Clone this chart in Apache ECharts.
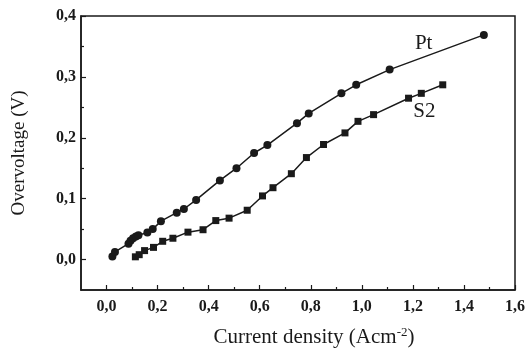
<!DOCTYPE html>
<html>
<head>
<meta charset="utf-8">
<script src="https://cdn.jsdelivr.net/npm/echarts@6/dist/echarts.min.js"></script>
<style>html,body{margin:0;padding:0;background:#fff}#c{width:528px;height:353px}</style>
</head>
<body>
<div id="c"></div>
<script>
var ptX = [0.023, 0.033, 0.086, 0.094, 0.104, 0.115, 0.125, 0.160, 0.181, 0.213, 0.275, 0.303, 0.351, 0.444, 0.509, 0.578, 0.630, 0.746, 0.792, 0.920, 0.978, 1.109, 1.478];
var ptY = [0.005, 0.0125, 0.026, 0.031, 0.035, 0.038, 0.040, 0.0445, 0.050, 0.063, 0.077, 0.083, 0.098, 0.130, 0.150, 0.175, 0.188, 0.224, 0.240, 0.273, 0.287, 0.312, 0.369];
var s2X = [0.113, 0.128, 0.149, 0.184, 0.220, 0.260, 0.319, 0.378, 0.428, 0.480, 0.551, 0.611, 0.652, 0.724, 0.783, 0.850, 0.934, 0.985, 1.046, 1.183, 1.233, 1.317];
var s2Y = [0.0045, 0.008, 0.0147, 0.020, 0.030, 0.035, 0.045, 0.049, 0.064, 0.068, 0.081, 0.1045, 0.118, 0.141, 0.1675, 0.189, 0.208, 0.227, 0.238, 0.265, 0.273, 0.287];
var xMajor = [0, 0.2, 0.4, 0.6, 0.8, 1.0, 1.2, 1.4, 1.6];
var xMinor = [0.1, 0.3, 0.5, 0.7, 0.9, 1.1, 1.3, 1.5];
var yMajor = [0, 0.1, 0.2, 0.3, 0.4];
var yMinor = [0.05, 0.15, 0.25, 0.35];

function pairs(xs, ys) { return xs.map(function (x, i) { return [x, ys[i]]; }); }
var ptData = pairs(ptX, ptY);
var s2Data = pairs(s2X, s2Y);
ptData[21] = { value: ptData[21], label: { show: true, formatter: 'Pt', offset: [34, -26] } };
s2Data[20] = { value: s2Data[20], label: { show: true, formatter: 'S2', offset: [3, 18] } };

var fmt = function (v) { return v.toFixed(1).replace('.', ','); };
var font = '"Liberation Serif", "DejaVu Serif", serif';
var ink = '#1a1a1a';

var chart = echarts.init(document.getElementById('c'), null, { renderer: 'canvas' });
chart.setOption({
  animation: false,
  backgroundColor: '#fff',
  grid: { left: 81, right: 12, top: 16, bottom: 61, show: true, borderColor: ink, borderWidth: 1.5, backgroundColor: 'transparent' },
  xAxis: [{
    type: 'value', min: -0.1, max: 1.6,
    name: 'Current density (Acm{sup|-2})', nameLocation: 'middle', nameGap: 36,
    nameTextStyle: { fontFamily: font, fontSize: 21, color: ink, padding: [0, 0, 0, 32],
      rich: { sup: { fontFamily: font, fontSize: 13, color: ink, verticalAlign: 'top', padding: [0, 0, 10, 0] } } },
    axisLine: { show: true, onZero: false, lineStyle: { color: ink, width: 1.5 } },
    axisTick: { show: true, inside: true, length: 5, customValues: xMajor, lineStyle: { color: ink, width: 1.2 } },
    axisLabel: { show: true, customValues: xMajor, formatter: fmt, fontFamily: font, fontWeight: 'bold', fontSize: 16, color: ink, margin: 9 },
    splitLine: { show: false }
  }, {
    type: 'value', min: -0.1, max: 1.6, position: 'bottom',
    axisLine: { show: false, onZero: false },
    axisTick: { show: true, inside: true, length: 3, customValues: xMinor, lineStyle: { color: ink, width: 1.2 } },
    axisLabel: { show: false }, splitLine: { show: false }
  }],
  yAxis: [{
    type: 'value', min: -0.05, max: 0.4,
    name: 'Overvoltage (V)', nameLocation: 'middle', nameGap: 52,
    nameTextStyle: { fontFamily: font, fontSize: 19, color: ink },
    axisLine: { show: true, onZero: false, lineStyle: { color: ink, width: 1.5 } },
    axisTick: { show: true, inside: true, length: 5, customValues: yMajor, lineStyle: { color: ink, width: 1.2 } },
    axisLabel: { show: true, customValues: yMajor, formatter: fmt, fontFamily: font, fontWeight: 'bold', fontSize: 16, color: ink, margin: 5 },
    splitLine: { show: false }
  }, {
    type: 'value', min: -0.05, max: 0.4, position: 'left',
    axisLine: { show: false, onZero: false },
    axisTick: { show: true, inside: true, length: 3, customValues: yMinor, lineStyle: { color: ink, width: 1.2 } },
    axisLabel: { show: false }, splitLine: { show: false }
  }],
  series: [{
    name: 'Pt', type: 'line', data: ptData, symbol: 'circle', symbolSize: 8,
    lineStyle: { color: ink, width: 1.5 }, itemStyle: { color: ink },
    label: { show: false, fontFamily: font, fontSize: 21, color: ink, position: 'inside' }
  }, {
    name: 'S2', type: 'line', data: s2Data, symbol: 'rect', symbolSize: 7,
    lineStyle: { color: ink, width: 1.5 }, itemStyle: { color: ink },
    label: { show: false, fontFamily: font, fontSize: 21, color: ink, position: 'inside' }
  }]
});
</script>
</body>
</html>
